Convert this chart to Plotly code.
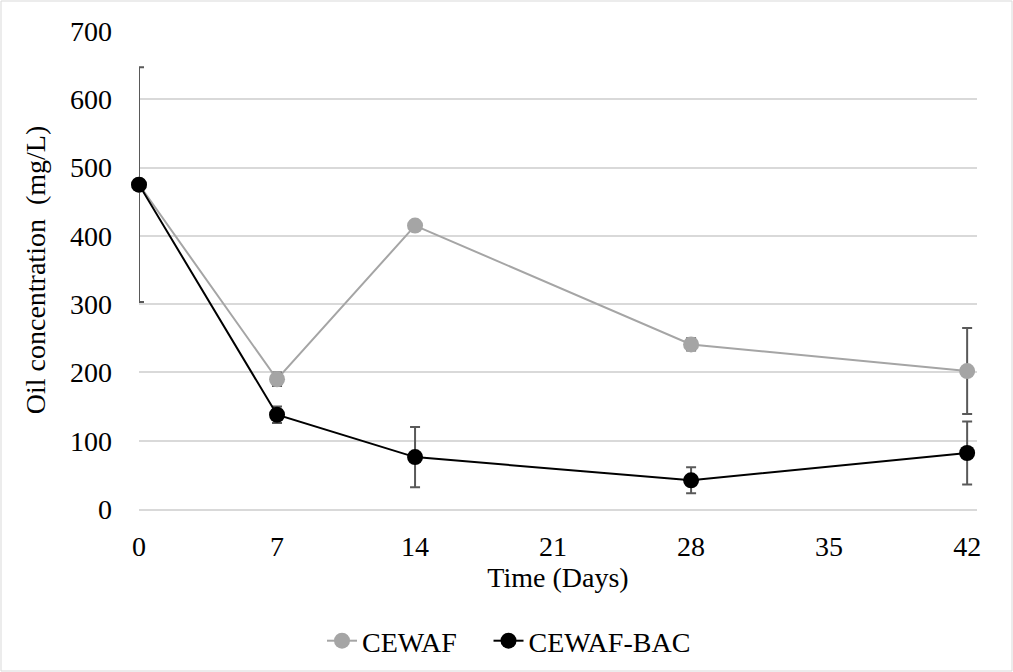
import plotly.graph_objects as go

days = [0, 7, 14, 28, 42]
cewaf = [475, 190, 415, 241, 202]
cewaf_err = [172, 10, 3, 9, 63]
bac = [475, 138, 76, 42, 82]
bac_err = [0, 12, 44, 19, 46]
x_ticks = [0, 7, 14, 21, 28, 35, 42]
y_ticks = [0, 100, 200, 300, 400, 500, 600, 700]
series_names = ["CEWAF", "CEWAF-BAC"]

FONT = "Liberation Serif"
FS = 28
fnt = dict(family=FONT, size=FS, color="#000000")
fig = go.Figure()
fig.add_trace(go.Scatter(
    x=days, y=cewaf, name=series_names[0] + "\u00a0\u00a0\u00a0\u2009", mode="lines+markers",
    line=dict(color="#a5a5a5", width=2),
    marker=dict(color="#a5a5a5", size=16),
    error_y=dict(type="data", array=cewaf_err, color="#595959", thickness=2, width=5),
    cliponaxis=False,
))
fig.add_trace(go.Scatter(
    x=days, y=bac, name=series_names[1], mode="lines+markers",
    line=dict(color="#000000", width=2),
    marker=dict(color="#000000", size=16),
    error_y=dict(type="data", array=bac_err, color="#595959", thickness=2, width=5),
    cliponaxis=False,
))

L, R, T, B = 139, 36, 31, 163
W, H = 1013, 672
pw, ph = W - L - R, H - T - B
fig.update_layout(
    width=W, height=H,
    margin=dict(l=L, r=R, t=T, b=B, autoexpand=False),
    paper_bgcolor="white", plot_bgcolor="white",
    font=fnt,
    showlegend=True,
    legend=dict(orientation="h", x=(322 - L) / pw, xanchor="left", y=(T + ph - 641) / ph,
                yanchor="middle", font=fnt, traceorder="normal"),
    xaxis=dict(range=[0, 42.5], tickvals=x_ticks, showgrid=False, zeroline=False,
               showline=True, linecolor="#d9d9d9", linewidth=1.5, ticks="",
               ticklabelstandoff=12, tickfont=fnt, automargin=False,
               title=dict(text="Time (Days)", standoff=6, font=fnt)),
    yaxis=dict(range=[0, 700], tickvals=y_ticks, showgrid=True, gridcolor="#d9d9d9",
               gridwidth=1.5, zeroline=False, showline=False, ticks="",
               ticklabelstandoff=26, tickfont=fnt, automargin=False,
               title=dict(text="Oil concentration  (mg/L)", standoff=16, font=fnt)),
    shapes=[dict(type="rect", xref="paper", yref="paper",
                 x0=(1 - L) / pw, x1=(W - 1 - L) / pw,
                 y0=-(H - 1 - T - ph) / ph, y1=(T - 1) / ph + 1,
                 line=dict(color="#d9d9d9", width=1), fillcolor="rgba(0,0,0,0)", layer="below")],
)
fig.write_html("out.html", post_script="document.body.style.margin='0';",
               config={"displayModeBar": False})
